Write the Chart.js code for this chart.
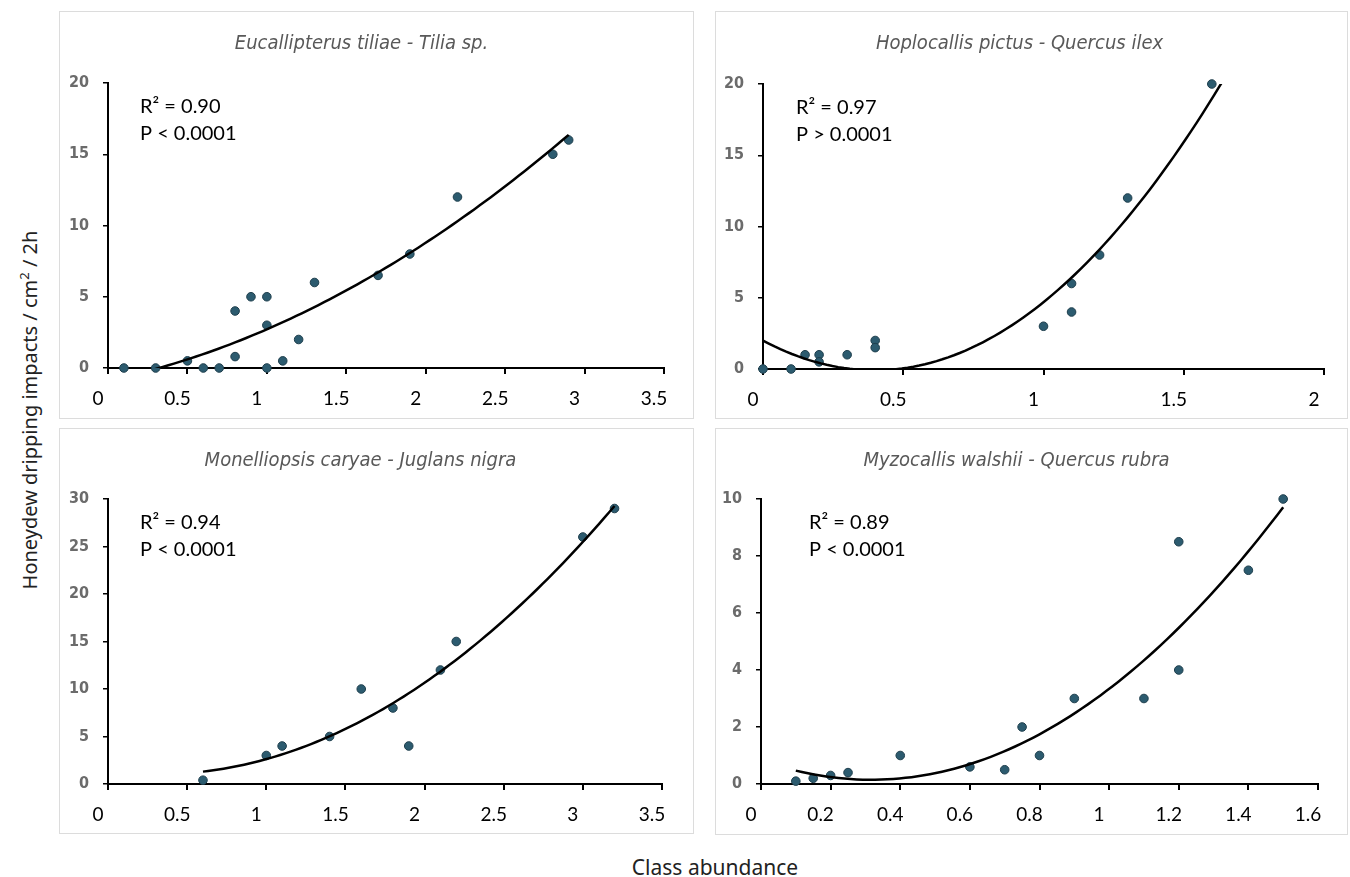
<!DOCTYPE html>
<html>
<head>
<meta charset="utf-8">
<script src="https://cdn.jsdelivr.net/npm/chart.js@4.4.1/dist/chart.umd.min.js"></script>
<style>
  body { margin: 0; background: #fff; width: 1350px; height: 877px; position: relative; overflow: hidden; }
  .frame { position: absolute; border: 1px solid #dcdcdc; box-sizing: border-box; }
  canvas { position: absolute; }
  #ytitle { position: absolute; left: 29px; top: 410px; transform: translate(-50%, -50%) rotate(-90deg);
            white-space: nowrap; font-family: 'Noto Sans', sans-serif; font-size: 20px; color: #222; }
  #xtitle { position: absolute; left: 715px; top: 867px; transform: translate(-50%, -50%);
            white-space: nowrap; font-family: 'Noto Sans', sans-serif; font-size: 21px; color: #222; }
</style>
</head>
<body>
<div class="frame" style="left:59px;top:11px;width:635px;height:408px"></div>
<div class="frame" style="left:715px;top:11px;width:633px;height:408px"></div>
<div class="frame" style="left:59px;top:428px;width:635px;height:406px"></div>
<div class="frame" style="left:715px;top:428px;width:633px;height:407px"></div>
<canvas id="c1" width="635" height="408" style="left:59px;top:11px"></canvas>
<canvas id="c2" width="633" height="408" style="left:715px;top:11px"></canvas>
<canvas id="c3" width="635" height="406" style="left:59px;top:428px"></canvas>
<canvas id="c4" width="633" height="407" style="left:715px;top:428px"></canvas>
<div id="ytitle">Honeydew dripping impacts / cm<sup style="font-size:13px">2</sup> / 2h</div>
<div id="xtitle">Class abundance</div>
<script>
// Eucallipterus tiliae - Tilia sp.
const p1X = [0.1, 0.3, 0.5, 0.6, 0.7, 0.8, 0.8, 0.9, 1.0, 1.0, 1.0, 1.1, 1.2, 1.3, 1.7, 1.9, 2.2, 2.8, 2.9];
const p1Y = [0, 0, 0.5, 0, 0, 4, 0.8, 5, 5, 3, 0, 0.5, 2, 6, 6.5, 8, 12, 15, 16];
// Hoplocallis pictus - Quercus ilex
const p2X = [0, 0.1, 0.15, 0.2, 0.2, 0.3, 0.4, 0.4, 1.0, 1.1, 1.1, 1.2, 1.3, 1.6];
const p2Y = [0, 0, 1, 1, 0.5, 1, 2, 1.5, 3, 6, 4, 8, 12, 20];
// Monelliopsis caryae - Juglans nigra
const p3X = [0.6, 1.0, 1.1, 1.4, 1.6, 1.8, 1.9, 2.1, 2.2, 3.0, 3.2];
const p3Y = [0.4, 3, 4, 5, 10, 8, 4, 12, 15, 26, 29];
// Myzocallis walshii - Quercus rubra
const p4X = [0.1, 0.15, 0.2, 0.25, 0.4, 0.6, 0.7, 0.75, 0.8, 0.9, 1.1, 1.2, 1.2, 1.4, 1.5];
const p4Y = [0.1, 0.2, 0.3, 0.4, 1, 0.6, 0.5, 2, 1, 3, 3, 8.5, 4, 7.5, 10];

const titles = ['Eucallipterus tiliae - Tilia sp.', 'Hoplocallis pictus - Quercus ilex',
                'Monelliopsis caryae - Juglans nigra', 'Myzocallis walshii - Quercus rubra'];
const r2Labels = ['R\u00b2 = 0.90', 'R\u00b2 = 0.97', 'R\u00b2 = 0.94', 'R\u00b2 = 0.89'];
const pLabels = ['P < 0.0001', 'P > 0.0001', 'P < 0.0001', 'P < 0.0001'];
// x extent covered by each trendline
const trendRanges = [[0.1, 2.9], [0, 1.65], [0.6, 3.2], [0.1, 1.5]];
const xMaxes = [3.5, 2, 3.5, 1.6];
const xSteps = [0.5, 0.5, 0.5, 0.2];
const yMaxes = [20, 20, 30, 10];
const ySteps = [5, 5, 5, 2];

// 2nd order polynomial least squares (like the spreadsheet trendline)
function quadFit(xs, ys) {
  const s = [0, 0, 0, 0, 0], t = [0, 0, 0];
  xs.forEach((x, i) => {
    for (let k = 0; k < 5; k++) s[k] += Math.pow(x, k);
    for (let k = 0; k < 3; k++) t[k] += ys[i] * Math.pow(x, k);
  });
  const m = [[s[0], s[1], s[2], t[0]], [s[1], s[2], s[3], t[1]], [s[2], s[3], s[4], t[2]]];
  for (let c = 0; c < 3; c++) {
    for (let r = c + 1; r < 3; r++) {
      const f = m[r][c] / m[c][c];
      for (let k = c; k < 4; k++) m[r][k] -= f * m[c][k];
    }
  }
  const cf = [0, 0, 0];
  for (let r = 2; r >= 0; r--) {
    let v = m[r][3];
    for (let k = r + 1; k < 3; k++) v -= m[r][k] * cf[k];
    cf[r] = v / m[r][r];
  }
  return cf;
}

function trendPoints(xs, ys, range) {
  const cf = quadFit(xs, ys);
  const pts = [];
  const n = 80;
  for (let i = 0; i <= n; i++) {
    const x = range[0] + (range[1] - range[0]) * i / n;
    pts.push({ x: x, y: cf[0] + cf[1] * x + cf[2] * x * x });
  }
  return pts;
}

const statsPlugin = {
  id: 'stats',
  afterDatasetsDraw(chart, args, opts) {
    const { ctx, chartArea } = chart;
    ctx.save();
    ctx.font = '20px Lato, sans-serif';
    ctx.fillStyle = '#000';
    ctx.textBaseline = 'middle';
    ctx.fillText(opts.r2, chartArea.left + opts.dx, chartArea.top + 24);
    ctx.fillText(opts.p, chartArea.left + opts.dx, chartArea.top + 51);
    ctx.restore();
  }
};

const boxes = [
  { left: 49, right: 30, top: 72, bottom: 51, dx: 32 },
  { left: 48, right: 24, top: 73, bottom: 50, dx: 33 },
  { left: 49, right: 32, top: 71, bottom: 50, dx: 32 },
  { left: 46, right: 30, top: 71, bottom: 51, dx: 48 }
];

const allX = [p1X, p2X, p3X, p4X];
const allY = [p1Y, p2Y, p3Y, p4Y];

for (let i = 0; i < 4; i++) {
  const b = boxes[i];
  const pts = allX[i].map((x, j) => ({ x: x, y: allY[i][j] }));
  new Chart(document.getElementById('c' + (i + 1)), {
    type: 'scatter',
    data: {
      datasets: [{
        type: 'line',
        data: trendPoints(allX[i], allY[i], trendRanges[i]),
        borderColor: '#000',
        borderWidth: 2.5,
        pointRadius: 0,
        fill: false
      }, {
        data: pts,
        pointRadius: 4.3,
        backgroundColor: '#2c5b6f',
        borderColor: '#1e3e4c',
        borderWidth: 1,
        clip: false
      }]
    },
    options: {
      responsive: false,
      animation: false,
      layout: { padding: { left: 0, top: 0, right: b.right, bottom: 0 } },
      scales: {
        x: {
          type: 'linear', min: 0, max: xMaxes[i],
          ticks: { stepSize: xSteps[i], labelOffset: -10, padding: 13, color: '#000',
                   font: { family: 'Lato, sans-serif', size: 19 },
                   callback: v => String(parseFloat(v.toFixed(2))) },
          grid: { drawOnChartArea: false, tickLength: 6, color: '#000', lineWidth: 2 },
          border: { color: '#000', width: 2 },
          afterFit: s => { s.height = b.bottom; }
        },
        y: {
          min: 0, max: yMaxes[i],
          ticks: { stepSize: ySteps[i], padding: 14, color: '#6b6b6b',
                   font: { family: "'Liberation Sans Narrow', 'DejaVu Sans Condensed', sans-serif", size: 16, weight: 'bold' } },
          grid: { drawOnChartArea: false, tickLength: 5, color: '#000', lineWidth: 1.5 },
          border: { color: '#000', width: 2 },
          afterFit: s => { s.width = b.left; }
        }
      },
      plugins: {
        legend: { display: false },
        tooltip: { enabled: false },
        title: {
          display: true, text: titles[i], color: '#595959',
          font: { family: "'Liberation Sans Narrow', 'DejaVu Sans Condensed', sans-serif", size: 20, style: 'italic', weight: 'normal' },
          padding: { top: 21, bottom: b.top - 45 }
        },
        stats: { r2: r2Labels[i], p: pLabels[i], dx: b.dx }
      }
    },
    plugins: [statsPlugin]
  });
}
</script>
</body>
</html>
